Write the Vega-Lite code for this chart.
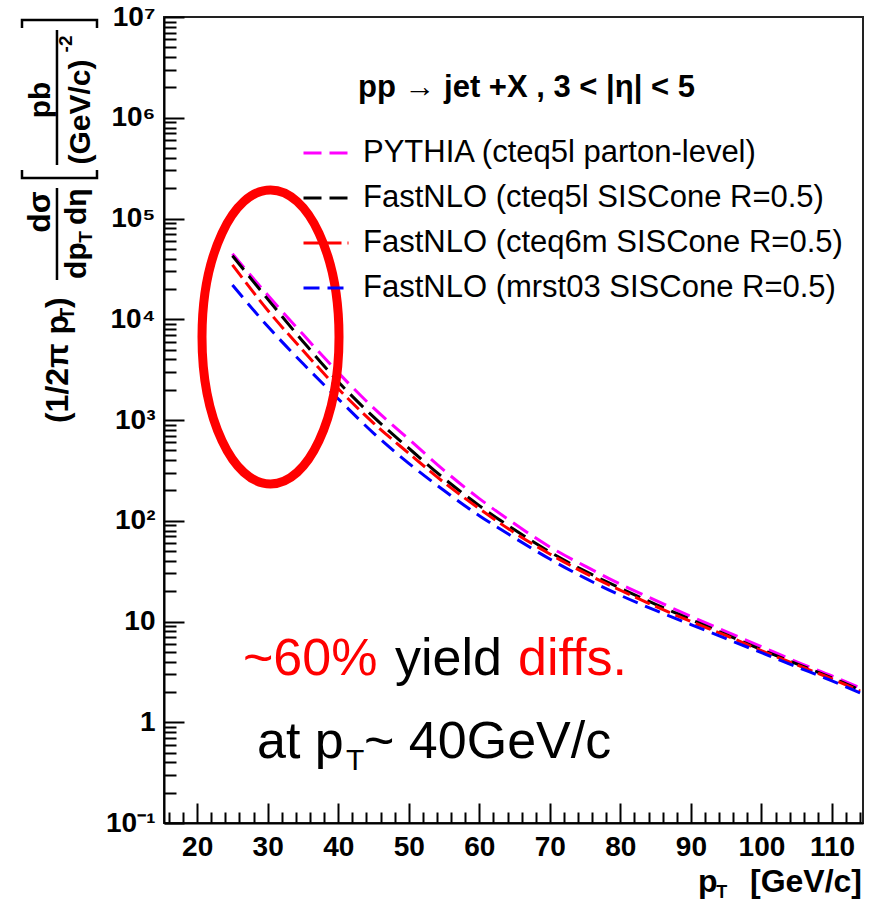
{
  "$schema": "https://vega.github.io/schema/vega-lite/v6.json",
  "width": 699,
  "height": 806,
  "autosize": {"type": "none"},
  "padding": {"left": 164, "top": 17, "right": 12, "bottom": 79},
  "background": "white",
  "config": {
    "view": {"stroke": "#222", "strokeWidth": 2},
    "font": "Liberation Sans"
  },
  "datasets": {
    "curves": [
      {"model": "PYTHIA (cteq5l parton-level)", "pt": 25, "xsec": 44670},
      {"model": "PYTHIA (cteq5l parton-level)", "pt": 30, "xsec": 17380},
      {"model": "PYTHIA (cteq5l parton-level)", "pt": 35, "xsec": 7079},
      {"model": "PYTHIA (cteq5l parton-level)", "pt": 40, "xsec": 2951},
      {"model": "PYTHIA (cteq5l parton-level)", "pt": 45, "xsec": 1318},
      {"model": "PYTHIA (cteq5l parton-level)", "pt": 50, "xsec": 645.7},
      {"model": "PYTHIA (cteq5l parton-level)", "pt": 55, "xsec": 316.2},
      {"model": "PYTHIA (cteq5l parton-level)", "pt": 60, "xsec": 166.0},
      {"model": "PYTHIA (cteq5l parton-level)", "pt": 65, "xsec": 93.33},
      {"model": "PYTHIA (cteq5l parton-level)", "pt": 70, "xsec": 54.95},
      {"model": "PYTHIA (cteq5l parton-level)", "pt": 75, "xsec": 35.48},
      {"model": "PYTHIA (cteq5l parton-level)", "pt": 80, "xsec": 23.44},
      {"model": "PYTHIA (cteq5l parton-level)", "pt": 85, "xsec": 16.22},
      {"model": "PYTHIA (cteq5l parton-level)", "pt": 90, "xsec": 11.22},
      {"model": "PYTHIA (cteq5l parton-level)", "pt": 95, "xsec": 7.943},
      {"model": "PYTHIA (cteq5l parton-level)", "pt": 100, "xsec": 5.623},
      {"model": "PYTHIA (cteq5l parton-level)", "pt": 105, "xsec": 3.981},
      {"model": "PYTHIA (cteq5l parton-level)", "pt": 110, "xsec": 2.884},
      {"model": "PYTHIA (cteq5l parton-level)", "pt": 114, "xsec": 2.188},

      {"model": "FastNLO (cteq5l SISCone R=0.5)", "pt": 25, "xsec": 42660},
      {"model": "FastNLO (cteq5l SISCone R=0.5)", "pt": 30, "xsec": 15850},
      {"model": "FastNLO (cteq5l SISCone R=0.5)", "pt": 35, "xsec": 6026},
      {"model": "FastNLO (cteq5l SISCone R=0.5)", "pt": 40, "xsec": 2399},
      {"model": "FastNLO (cteq5l SISCone R=0.5)", "pt": 45, "xsec": 1072},
      {"model": "FastNLO (cteq5l SISCone R=0.5)", "pt": 50, "xsec": 524.8},
      {"model": "FastNLO (cteq5l SISCone R=0.5)", "pt": 55, "xsec": 263.0},
      {"model": "FastNLO (cteq5l SISCone R=0.5)", "pt": 60, "xsec": 141.3},
      {"model": "FastNLO (cteq5l SISCone R=0.5)", "pt": 65, "xsec": 81.28},
      {"model": "FastNLO (cteq5l SISCone R=0.5)", "pt": 70, "xsec": 48.98},
      {"model": "FastNLO (cteq5l SISCone R=0.5)", "pt": 75, "xsec": 31.62},
      {"model": "FastNLO (cteq5l SISCone R=0.5)", "pt": 80, "xsec": 21.38},
      {"model": "FastNLO (cteq5l SISCone R=0.5)", "pt": 85, "xsec": 14.79},
      {"model": "FastNLO (cteq5l SISCone R=0.5)", "pt": 90, "xsec": 10.47},
      {"model": "FastNLO (cteq5l SISCone R=0.5)", "pt": 95, "xsec": 7.413},
      {"model": "FastNLO (cteq5l SISCone R=0.5)", "pt": 100, "xsec": 5.248},
      {"model": "FastNLO (cteq5l SISCone R=0.5)", "pt": 105, "xsec": 3.802},
      {"model": "FastNLO (cteq5l SISCone R=0.5)", "pt": 110, "xsec": 2.754},
      {"model": "FastNLO (cteq5l SISCone R=0.5)", "pt": 114, "xsec": 2.089},

      {"model": "FastNLO (cteq6m SISCone R=0.5)", "pt": 25, "xsec": 34670},
      {"model": "FastNLO (cteq6m SISCone R=0.5)", "pt": 30, "xsec": 12300},
      {"model": "FastNLO (cteq6m SISCone R=0.5)", "pt": 35, "xsec": 4898},
      {"model": "FastNLO (cteq6m SISCone R=0.5)", "pt": 40, "xsec": 2042},
      {"model": "FastNLO (cteq6m SISCone R=0.5)", "pt": 45, "xsec": 933.3},
      {"model": "FastNLO (cteq6m SISCone R=0.5)", "pt": 50, "xsec": 467.7},
      {"model": "FastNLO (cteq6m SISCone R=0.5)", "pt": 55, "xsec": 239.9},
      {"model": "FastNLO (cteq6m SISCone R=0.5)", "pt": 60, "xsec": 131.8},
      {"model": "FastNLO (cteq6m SISCone R=0.5)", "pt": 65, "xsec": 75.86},
      {"model": "FastNLO (cteq6m SISCone R=0.5)", "pt": 70, "xsec": 46.77},
      {"model": "FastNLO (cteq6m SISCone R=0.5)", "pt": 75, "xsec": 30.20},
      {"model": "FastNLO (cteq6m SISCone R=0.5)", "pt": 80, "xsec": 20.42},
      {"model": "FastNLO (cteq6m SISCone R=0.5)", "pt": 85, "xsec": 14.13},
      {"model": "FastNLO (cteq6m SISCone R=0.5)", "pt": 90, "xsec": 10.00},
      {"model": "FastNLO (cteq6m SISCone R=0.5)", "pt": 95, "xsec": 7.244},
      {"model": "FastNLO (cteq6m SISCone R=0.5)", "pt": 100, "xsec": 5.129},
      {"model": "FastNLO (cteq6m SISCone R=0.5)", "pt": 105, "xsec": 3.715},
      {"model": "FastNLO (cteq6m SISCone R=0.5)", "pt": 110, "xsec": 2.692},
      {"model": "FastNLO (cteq6m SISCone R=0.5)", "pt": 114, "xsec": 2.042},

      {"model": "FastNLO (mrst03 SISCone R=0.5)", "pt": 25, "xsec": 21880},
      {"model": "FastNLO (mrst03 SISCone R=0.5)", "pt": 30, "xsec": 8511},
      {"model": "FastNLO (mrst03 SISCone R=0.5)", "pt": 35, "xsec": 3631},
      {"model": "FastNLO (mrst03 SISCone R=0.5)", "pt": 40, "xsec": 1622},
      {"model": "FastNLO (mrst03 SISCone R=0.5)", "pt": 45, "xsec": 741.3},
      {"model": "FastNLO (mrst03 SISCone R=0.5)", "pt": 50, "xsec": 371.5},
      {"model": "FastNLO (mrst03 SISCone R=0.5)", "pt": 55, "xsec": 199.5},
      {"model": "FastNLO (mrst03 SISCone R=0.5)", "pt": 60, "xsec": 112.2},
      {"model": "FastNLO (mrst03 SISCone R=0.5)", "pt": 65, "xsec": 67.61},
      {"model": "FastNLO (mrst03 SISCone R=0.5)", "pt": 70, "xsec": 41.69},
      {"model": "FastNLO (mrst03 SISCone R=0.5)", "pt": 75, "xsec": 26.92},
      {"model": "FastNLO (mrst03 SISCone R=0.5)", "pt": 80, "xsec": 18.20},
      {"model": "FastNLO (mrst03 SISCone R=0.5)", "pt": 85, "xsec": 12.88},
      {"model": "FastNLO (mrst03 SISCone R=0.5)", "pt": 90, "xsec": 9.333},
      {"model": "FastNLO (mrst03 SISCone R=0.5)", "pt": 95, "xsec": 6.761},
      {"model": "FastNLO (mrst03 SISCone R=0.5)", "pt": 100, "xsec": 4.898},
      {"model": "FastNLO (mrst03 SISCone R=0.5)", "pt": 105, "xsec": 3.548},
      {"model": "FastNLO (mrst03 SISCone R=0.5)", "pt": 110, "xsec": 2.570},
      {"model": "FastNLO (mrst03 SISCone R=0.5)", "pt": 114, "xsec": 1.950}
    ]
  },
  "layer": [
    {
      "data": {"name": "curves"},
      "mark": {"type": "line", "strokeWidth": 3, "interpolate": "monotone", "clip": true},
      "encoding": {
        "x": {
          "field": "pt", "type": "quantitative",
          "scale": {"domain": [15.3, 114.4], "nice": false, "zero": false},
          "axis": {
            "title": null,
            "grid": false,
            "tickCount": 500,
            "values": [16,18,20,22,24,26,28,30,32,34,36,38,40,42,44,46,48,50,52,54,56,58,60,62,64,66,68,70,72,74,76,78,80,82,84,86,88,90,92,94,96,98,100,102,104,106,108,110,112,114],
            "labelExpr": "datum.value % 10 === 0 ? format(datum.value, 'd') : ''",
            "labelFont": "Liberation Sans", "labelFontWeight": "bold", "labelFontSize": 28, "labelColor": "black",
            "labelPadding": 30, "labelFlush": false, "labelOverlap": false,
            "tickSize": {"condition": {"test": "datum.value % 10 === 0", "value": -20}, "value": -11},
            "tickColor": "black", "tickWidth": 2,
            "domainColor": "black", "domainWidth": 2
          }
        },
        "y": {
          "field": "xsec", "type": "quantitative",
          "scale": {"type": "log", "domain": [0.1, 10000000], "nice": false},
          "axis": {
            "title": null,
            "grid": false,
            "tickCount": 500,
            "values": [0.1,0.2,0.3,0.4,0.5,0.6,0.7,0.8,0.9,1,2,3,4,5,6,7,8,9,10,20,30,40,50,60,70,80,90,100,200,300,400,500,600,700,800,900,1000,2000,3000,4000,5000,6000,7000,8000,9000,10000,20000,30000,40000,50000,60000,70000,80000,90000,100000,200000,300000,400000,500000,600000,700000,800000,900000,1000000,2000000,3000000,4000000,5000000,6000000,7000000,8000000,9000000,10000000],
            "labelExpr": "datum.value === 0.1 ? '10⁻¹' : datum.value === 1 ? '1' : datum.value === 10 ? '10' : datum.value === 100 ? '10²' : datum.value === 1000 ? '10³' : datum.value === 10000 ? '10⁴' : datum.value === 100000 ? '10⁵' : datum.value === 1000000 ? '10⁶' : datum.value === 10000000 ? '10⁷' : ''",
            "labelFont": "Liberation Sans", "labelFontWeight": "bold", "labelFontSize": 28, "labelColor": "black",
            "labelPadding": 29, "labelOverlap": false,
            "tickSize": {"condition": {"test": "indexof([0.1,1,10,100,1000,10000,100000,1000000,10000000], datum.value) >= 0", "value": -20}, "value": -12},
            "tickColor": "black", "tickWidth": 2,
            "domainColor": "black", "domainWidth": 2
          }
        },
        "color": {
          "field": "model", "type": "nominal",
          "scale": {
            "domain": ["PYTHIA (cteq5l parton-level)", "FastNLO (cteq5l SISCone R=0.5)", "FastNLO (cteq6m SISCone R=0.5)", "FastNLO (mrst03 SISCone R=0.5)"],
            "range": ["#ff00ff", "#000000", "#ff0000", "#0000ff"]
          },
          "legend": {
            "title": null, "orient": "none", "legendX": 138, "legendY": 112,
            "symbolType": "stroke", "symbolSize": 2025, "symbolStrokeWidth": 3,
            "labelFont": "Liberation Sans", "labelFontSize": 31, "labelColor": "black",
            "labelOffset": 13, "labelLimit": 700, "rowPadding": 6, "padding": 0
          }
        },
        "strokeDash": {
          "field": "model", "type": "nominal",
          "scale": {
            "domain": ["PYTHIA (cteq5l parton-level)", "FastNLO (cteq5l SISCone R=0.5)", "FastNLO (cteq6m SISCone R=0.5)", "FastNLO (mrst03 SISCone R=0.5)"],
            "range": [[18, 8], [18, 8], [16, 6], [16, 8]]
          },
          "legend": {
            "title": null, "orient": "none", "legendX": 138, "legendY": 112,
            "symbolType": "stroke", "symbolSize": 2025, "symbolStrokeWidth": 3,
            "labelFont": "Liberation Sans", "labelFontSize": 31, "labelColor": "black",
            "labelOffset": 13, "labelLimit": 700, "rowPadding": 6, "padding": 0
          }
        }
      }
    },
    {
      "data": {"values": [{}]},
      "mark": {"type": "point", "shape": "M0,-1C0.2574,-1,0.466,-0.5523,0.466,0C0.466,0.5523,0.2574,1,0,1C-0.2574,1,-0.466,0.5523,-0.466,0C-0.466,-0.5523,-0.2574,-1,0,-1Z", "size": 86436, "filled": false, "stroke": "#ff0000", "strokeWidth": 9, "opacity": 1},
      "encoding": {
        "x": {"datum": 30.4, "type": "quantitative"},
        "y": {"datum": 6668, "type": "quantitative"}
      }
    },
    {
      "data": {"values": [{}]},
      "mark": {"type": "text", "text": "pp → jet +X , 3 < |η| < 5", "font": "Liberation Sans", "fontWeight": "bold", "fontSize": 31, "color": "black", "align": "left", "baseline": "alphabetic"},
      "encoding": {
        "x": {"datum": 42.8, "type": "quantitative"},
        "y": {"datum": 1607000, "type": "quantitative"}
      }
    },
    {
      "data": {"values": [{}]},
      "mark": {"type": "text", "text": "~60%", "font": "Liberation Sans", "fontSize": 52, "color": "#ff0000", "align": "left", "baseline": "alphabetic"},
      "encoding": {
        "x": {"datum": 26.5, "type": "quantitative"},
        "y": {"datum": 2.944, "type": "quantitative"}
      }
    },
    {
      "data": {"values": [{}]},
      "mark": {"type": "text", "text": "yield", "font": "Liberation Sans", "fontSize": 52, "color": "black", "align": "left", "baseline": "alphabetic"},
      "encoding": {
        "x": {"datum": 48.05, "type": "quantitative"},
        "y": {"datum": 2.944, "type": "quantitative"}
      }
    },
    {
      "data": {"values": [{}]},
      "mark": {"type": "text", "text": "diffs.", "font": "Liberation Sans", "fontSize": 52, "color": "#ff0000", "align": "left", "baseline": "alphabetic"},
      "encoding": {
        "x": {"datum": 65.49, "type": "quantitative"},
        "y": {"datum": 2.944, "type": "quantitative"}
      }
    },
    {
      "data": {"values": [{}]},
      "mark": {"type": "text", "text": "at p", "font": "Liberation Sans", "fontSize": 52, "color": "black", "align": "left", "baseline": "alphabetic"},
      "encoding": {
        "x": {"datum": 28.49, "type": "quantitative"},
        "y": {"datum": 0.4416, "type": "quantitative"}
      }
    },
    {
      "data": {"values": [{}]},
      "mark": {"type": "text", "text": "T", "font": "Liberation Sans", "fontSize": 30, "color": "black", "align": "left", "baseline": "alphabetic"},
      "encoding": {
        "x": {"datum": 41.1, "type": "quantitative"},
        "y": {"datum": 0.3357, "type": "quantitative"}
      }
    },
    {
      "data": {"values": [{}]},
      "mark": {"type": "text", "text": "~ 40GeV/c", "font": "Liberation Sans", "fontSize": 52, "color": "black", "align": "left", "baseline": "alphabetic"},
      "encoding": {
        "x": {"datum": 43.66, "type": "quantitative"},
        "y": {"datum": 0.4416, "type": "quantitative"}
      }
    },
    {
      "data": {"values": [{}]},
      "mark": {"type": "text", "text": "p", "font": "Liberation Sans", "fontWeight": "bold", "fontSize": 32, "color": "black", "align": "left", "baseline": "alphabetic"},
      "encoding": {
        "x": {"datum": 91.0, "type": "quantitative"},
        "y": {"datum": 0.02065, "type": "quantitative"}
      }
    },
    {
      "data": {"values": [{}]},
      "mark": {"type": "text", "text": "T", "font": "Liberation Sans", "fontWeight": "bold", "fontSize": 18, "color": "black", "align": "left", "baseline": "alphabetic"},
      "encoding": {
        "x": {"datum": 93.6, "type": "quantitative"},
        "y": {"datum": 0.01801, "type": "quantitative"}
      }
    },
    {
      "data": {"values": [{}]},
      "mark": {"type": "text", "text": "[GeV/c]", "font": "Liberation Sans", "fontWeight": "bold", "fontSize": 32, "color": "black", "align": "right", "baseline": "alphabetic"},
      "encoding": {
        "x": {"datum": 114.26, "type": "quantitative"},
        "y": {"datum": 0.02065, "type": "quantitative"}
      }
    },
    {
      "data": {"values": [{}]},
      "mark": {"type": "point", "shape": "M-1,-1.893L-1,-2.107L1,-2.107L1,-1.893M-1,1.893L-1,2.107L1,2.107L1,1.893M-0.067,-1.84L-0.067,1.76M-0.067,2.373L-0.067,4.827", "size": 5625, "filled": false, "stroke": "black", "strokeWidth": 2.5, "opacity": 1},
      "encoding": {
        "x": {"datum": 0.484, "type": "quantitative"},
        "y": {"datum": 1535000, "type": "quantitative"}
      }
    },
    {
      "data": {"values": [{}]},
      "mark": {"type": "text", "text": "(1/2π p", "angle": 270, "font": "Liberation Sans", "fontWeight": "bold", "fontSize": 32, "color": "black", "align": "left", "baseline": "alphabetic"},
      "encoding": {
        "x": {"datum": 1.69, "type": "quantitative"},
        "y": {"datum": 933, "type": "quantitative"}
      }
    },
    {
      "data": {"values": [{}]},
      "mark": {"type": "text", "text": "T", "angle": 270, "font": "Liberation Sans", "fontWeight": "bold", "fontSize": 20, "color": "black", "align": "left", "baseline": "alphabetic"},
      "encoding": {
        "x": {"datum": 2.54, "type": "quantitative"},
        "y": {"datum": 9840, "type": "quantitative"}
      }
    },
    {
      "data": {"values": [{}]},
      "mark": {"type": "text", "text": ")", "angle": 270, "font": "Liberation Sans", "fontWeight": "bold", "fontSize": 32, "color": "black", "align": "left", "baseline": "alphabetic"},
      "encoding": {
        "x": {"datum": 1.69, "type": "quantitative"},
        "y": {"datum": 12940, "type": "quantitative"}
      }
    },
    {
      "data": {"values": [{}]},
      "mark": {"type": "text", "text": "dσ", "angle": 270, "font": "Liberation Sans", "fontWeight": "bold", "fontSize": 32, "color": "black", "align": "center", "baseline": "alphabetic"},
      "encoding": {
        "x": {"datum": -0.86, "type": "quantitative"},
        "y": {"datum": 115900, "type": "quantitative"}
      }
    },
    {
      "data": {"values": [{}]},
      "mark": {"type": "text", "text": "dp", "angle": 270, "font": "Liberation Sans", "fontWeight": "bold", "fontSize": 30, "color": "black", "align": "left", "baseline": "alphabetic"},
      "encoding": {
        "x": {"datum": 4.24, "type": "quantitative"},
        "y": {"datum": 25120, "type": "quantitative"}
      }
    },
    {
      "data": {"values": [{}]},
      "mark": {"type": "text", "text": "T", "angle": 270, "font": "Liberation Sans", "fontWeight": "bold", "fontSize": 19, "color": "black", "align": "left", "baseline": "alphabetic"},
      "encoding": {
        "x": {"datum": 5.09, "type": "quantitative"},
        "y": {"datum": 57500, "type": "quantitative"}
      }
    },
    {
      "data": {"values": [{}]},
      "mark": {"type": "text", "text": "dη", "angle": 270, "font": "Liberation Sans", "fontWeight": "bold", "fontSize": 30, "color": "black", "align": "left", "baseline": "alphabetic"},
      "encoding": {
        "x": {"datum": 4.24, "type": "quantitative"},
        "y": {"datum": 86000, "type": "quantitative"}
      }
    },
    {
      "data": {"values": [{}]},
      "mark": {"type": "text", "text": "pb", "angle": 270, "font": "Liberation Sans", "fontWeight": "bold", "fontSize": 30, "color": "black", "align": "center", "baseline": "alphabetic"},
      "encoding": {
        "x": {"datum": -0.86, "type": "quantitative"},
        "y": {"datum": 1500000, "type": "quantitative"}
      }
    },
    {
      "data": {"values": [{}]},
      "mark": {"type": "text", "text": "(GeV/c)", "angle": 270, "font": "Liberation Sans", "fontWeight": "bold", "fontSize": 30, "color": "black", "align": "center", "baseline": "alphabetic"},
      "encoding": {
        "x": {"datum": 4.81, "type": "quantitative"},
        "y": {"datum": 1140000, "type": "quantitative"}
      }
    },
    {
      "data": {"values": [{}]},
      "mark": {"type": "text", "text": "-2", "angle": 270, "font": "Liberation Sans", "fontWeight": "bold", "fontSize": 19, "color": "black", "align": "center", "baseline": "alphabetic"},
      "encoding": {
        "x": {"datum": 2.26, "type": "quantitative"},
        "y": {"datum": 5396000, "type": "quantitative"}
      }
    }
  ]
}
